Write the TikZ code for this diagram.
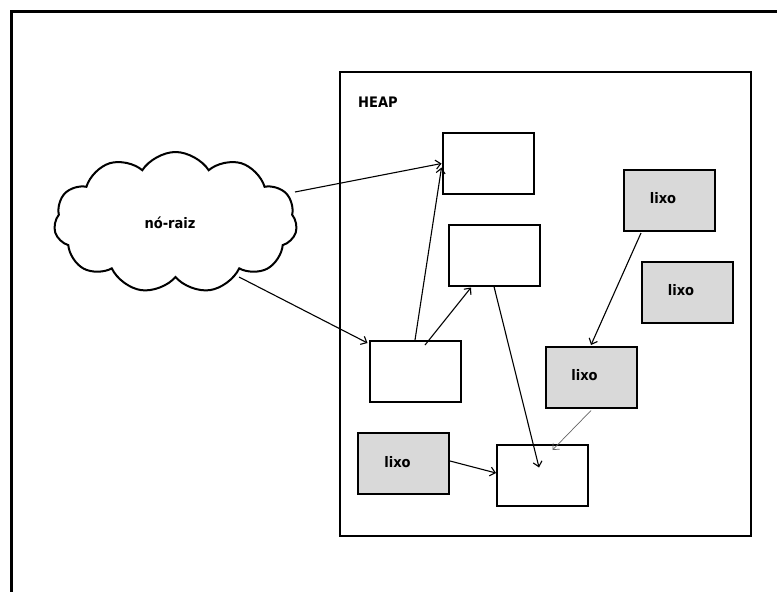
\documentclass[tikz,border=0pt]{standalone}
\usepackage{fontspec}
\newfontfamily\labelfont{DejaVu Sans Condensed}
\usetikzlibrary{shapes.symbols,arrows.meta}

\tikzset{
  txt/.style={font=\labelfont\bfseries\fontsize{14.5}{17}\selectfont, inner sep=0pt},
  obj/.style={draw, line width=2pt, minimum width=91pt, minimum height=61pt, inner sep=0pt, fill=white},
  garbage/.style={obj, fill=lixogray},
  ref/.style={line width=1.1pt, -{Straight Barb[length=5pt,width=9pt,line width=1.1pt]}},
  weakref/.style={line width=0.7pt, draw=gray!80!black, -{Straight Barb[length=5pt,width=9pt,line width=0.7pt]}},
}
\definecolor{lixogray}{HTML}{D9D9D9}

\begin{document}
\begin{tikzpicture}[x=1pt,y=-1pt]
  \useasboundingbox (0,0) rectangle (777,592);
  \fill[white] (0,0) rectangle (777,592);

  % outer frame, running off the right and bottom edges
  \begin{scope}
    \clip (0,0) rectangle (777,592);
    \draw[line width=3pt] (11.5,600) -- (11.5,11.5) -- (790,11.5);
  \end{scope}

  % heap area
  \node[draw, line width=2pt, minimum width=411pt, minimum height=464pt, inner sep=0pt]
    (heap) at (545.5,304) {};
  \node[txt, anchor=west] (heaplabel) at (358,102) {HEAP};

  % root set
  \node[cloud, draw, line width=2pt, cloud puffs=11, cloud puff arc=115, aspect=1.75,
        minimum width=243pt, minimum height=141pt, inner sep=0pt] (root) at (175.5,222.5) {};
  \node[txt] (rootlabel) at (170,223) {nó-raiz};

  % reachable objects
  \node[obj] (A) at (488,163.5) {};
  \node[obj] (B) at (494,255) {};
  \node[obj] (C) at (415,371.5) {};
  \node[obj] (E) at (542.5,475.5) {};

  % unreachable objects
  \node[garbage] (D) at (403,463.5) {};
  \node[garbage] (F) at (669.5,200.5) {};
  \node[garbage] (G) at (687.5,292) {};
  \node[garbage] (H) at (591,377.5) {};
  \node[txt] (Dt) at ([shift={(-5.5,-1.5)}]D.center) {lixo};
  \node[txt] (Ft) at ([shift={(-6.5,-2)}]F.center) {lixo};
  \node[txt] (Gt) at ([shift={(-6.5,-2)}]G.center) {lixo};
  \node[txt] (Ht) at ([shift={(-6.5,-2)}]H.center) {lixo};

  % references
  \draw[ref] ([shift={(119.5,-30.5)}]root.center) -- (A.west);
  \draw[ref] ([shift={(63.5,54.5)}]root.center) -- ([shift={(-1,3)}]C.north west);
  \draw[ref] (C.north) -- ([shift={(0,4)}]A.west);
  \draw[ref] ([shift={(10,5)}]C.north) -- ([shift={(-23,1)}]B.south);
  \draw[ref] (B.south) -- ([shift={(-3.5,-8)}]E.center);
  \draw[ref] ([shift={(0.5,-2.5)}]D.east) -- ([shift={(0,-2.5)}]E.west);
  \draw[ref] ([shift={(-28.5,1)}]F.south) -- ([shift={(0,-1)}]H.north);
  \draw[weakref] ([shift={(0,1.5)}]H.south) -- ([shift={(10,6)}]E.north);
\end{tikzpicture}
\end{document}
